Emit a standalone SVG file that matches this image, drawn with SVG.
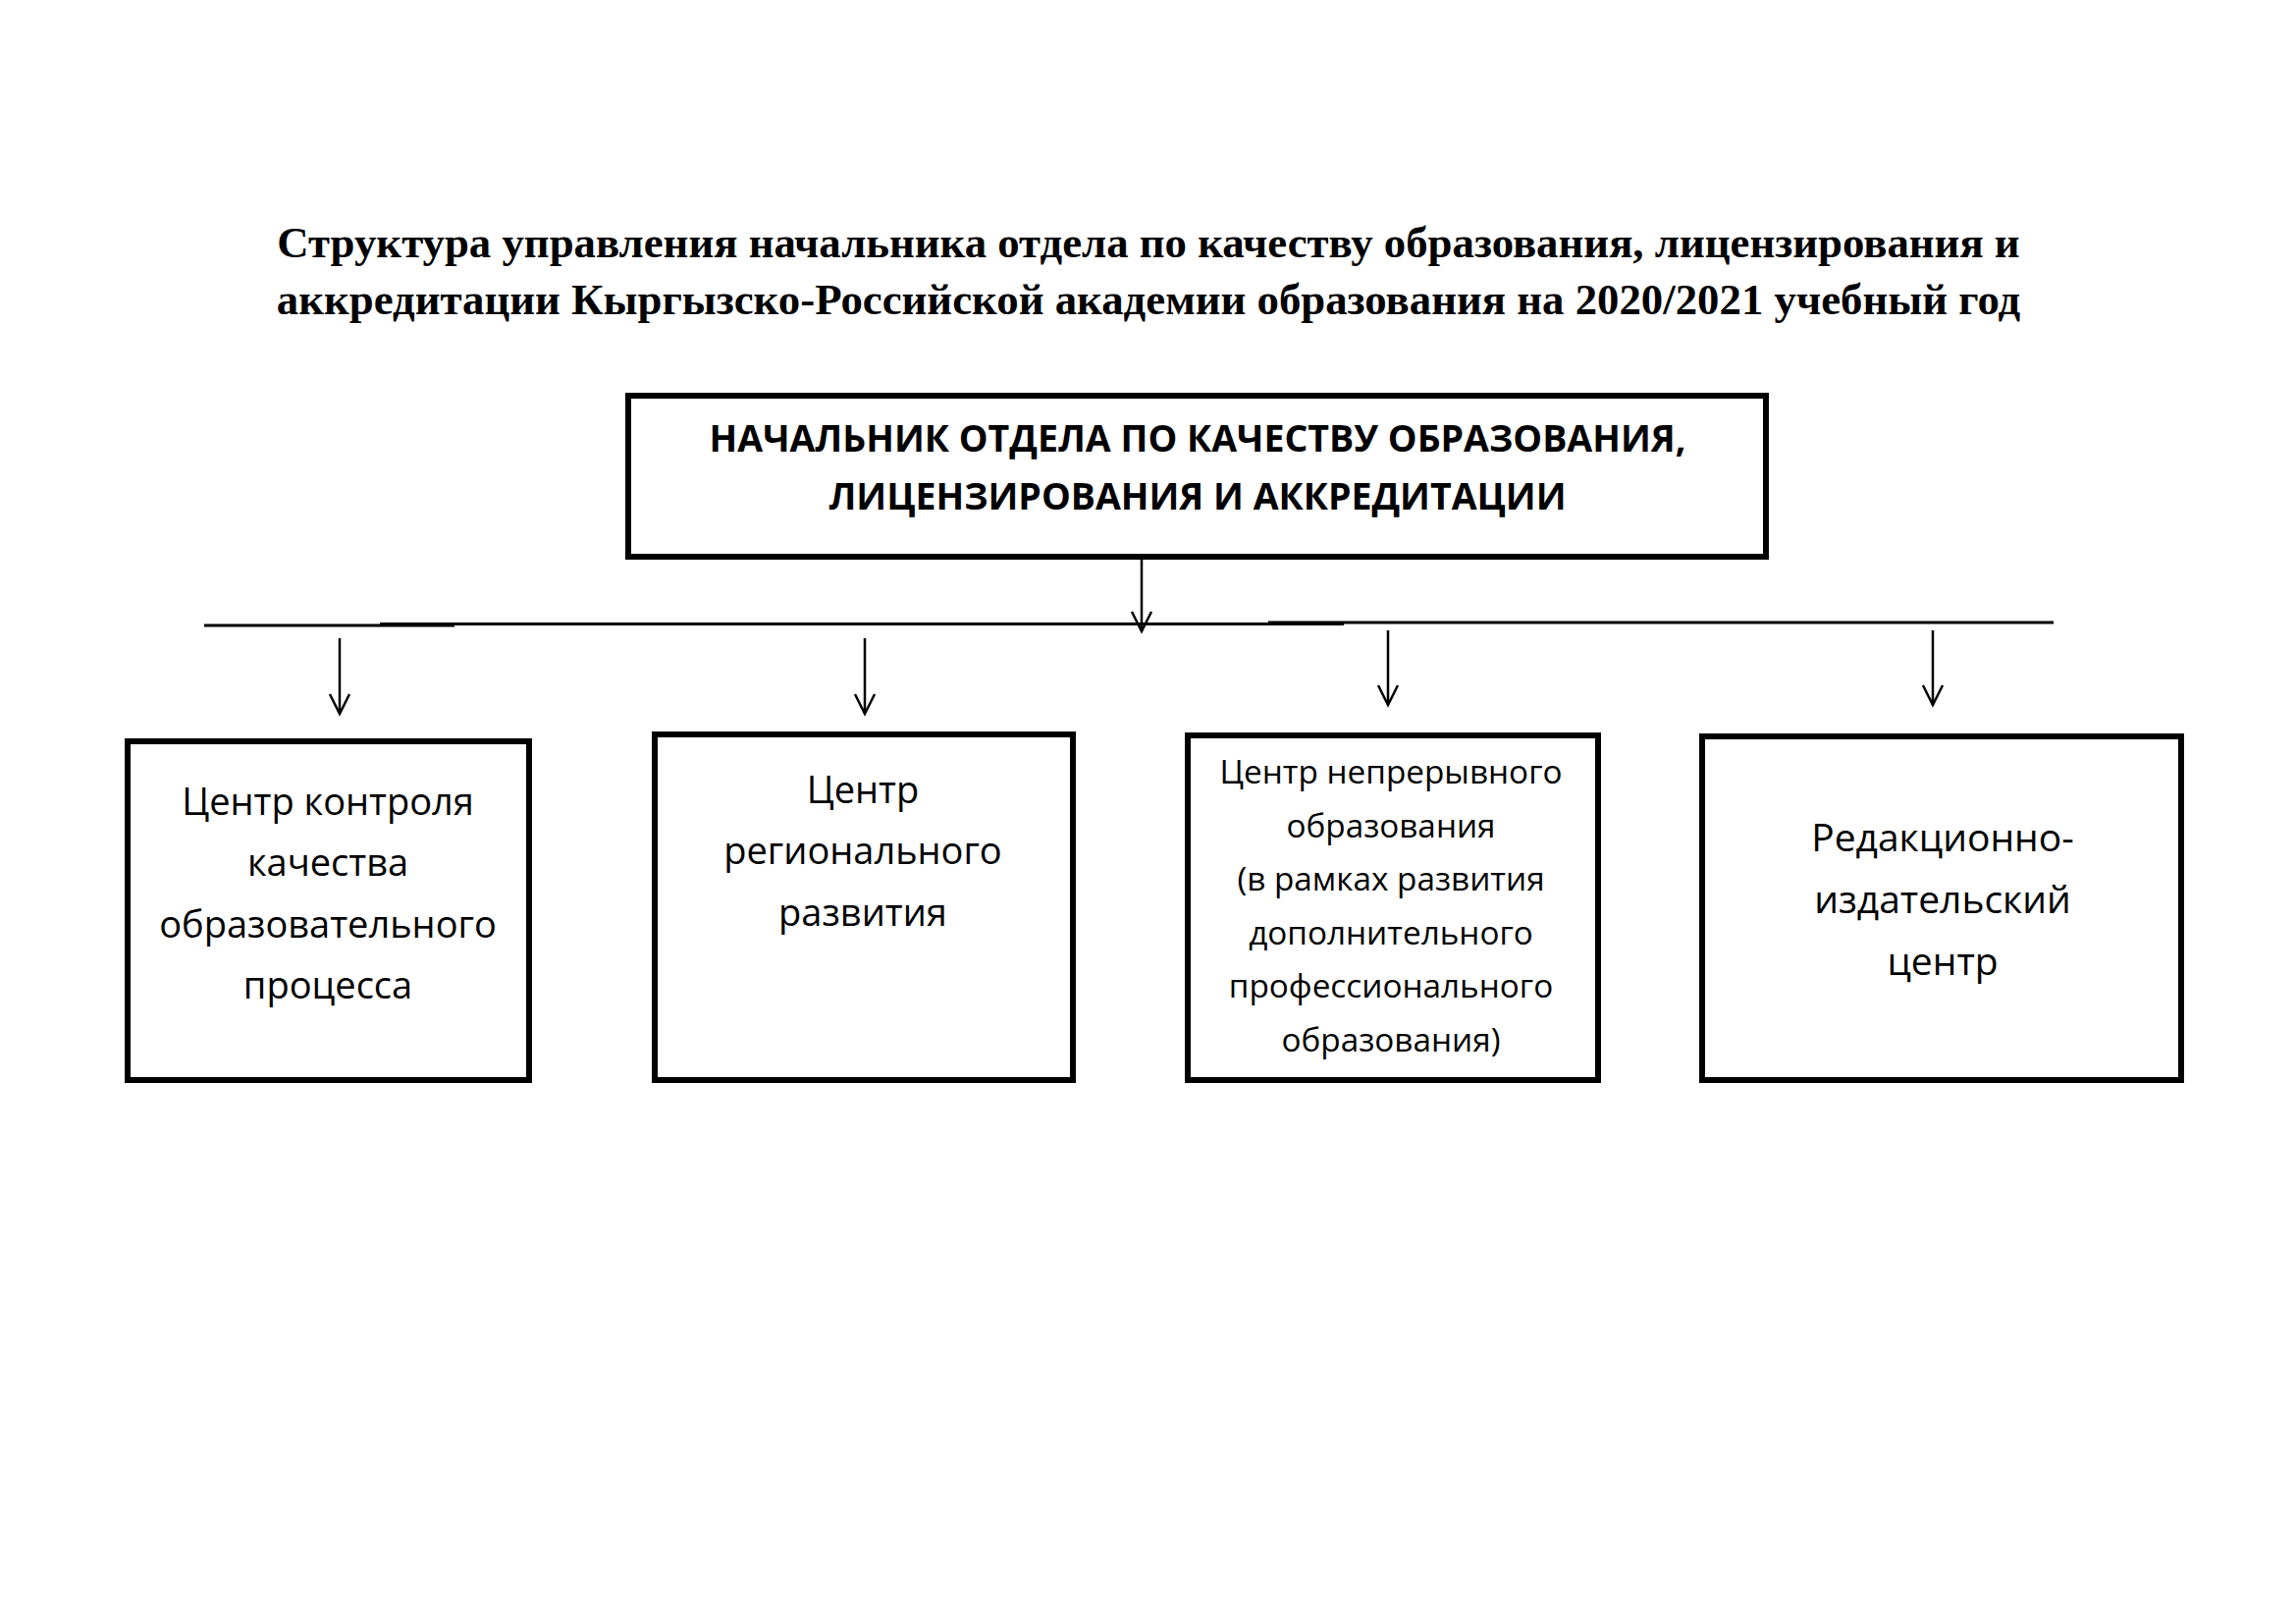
<svg xmlns="http://www.w3.org/2000/svg" width="2339" height="1654" viewBox="0 0 2339 1654">
<style>
.bg{fill:#ffffff}
.box{fill:#ffffff;stroke:#000000;stroke-width:6;stroke-linejoin:miter}
.ttl{font-family:"Liberation Serif","Times New Roman",serif;font-weight:bold;font-size:44.8px;fill:#000;text-anchor:middle}
.head{font-family:"Open Sans","Noto Sans",sans-serif;font-weight:bold;font-size:37.5px;fill:#000;text-anchor:middle}
.lbl{font-family:"Open Sans","Noto Sans",sans-serif;font-size:38px;fill:#000;text-anchor:middle}
.lbl-l{font-family:"Open Sans","Noto Sans",sans-serif;font-size:39px;fill:#000;text-anchor:middle}
.lbl-s{font-family:"Open Sans","Noto Sans",sans-serif;font-size:33.3px;fill:#000;text-anchor:middle}
.bus{stroke:#000;stroke-width:3;fill:none}
.arr{stroke:#000;stroke-width:2.5;fill:none;marker-end:url(#vhead)}
</style>
<defs>
<marker id="vhead" markerUnits="userSpaceOnUse" markerWidth="30" markerHeight="30" viewBox="-25 -15 30 30" refX="0" refY="0" orient="auto" overflow="visible">
<path d="M-20,-10 L0,0 L-20,10" fill="none" stroke="#000" stroke-width="2.5"/>
</marker>
</defs>
<rect class="bg" x="0" y="0" width="2339" height="1654"/>

<g id="title">
<text class="ttl" x="1170" y="262">Структура управления начальника отдела по качеству образования, лицензирования и</text>
<text class="ttl" x="1170" y="320">аккредитации Кыргызско-Российской академии образования на 2020/2021 учебный год</text>
</g>

<g id="connectors">
<line class="bus" x1="208" y1="637" x2="463" y2="637"/>
<line class="bus" x1="387" y1="635.5" x2="1369" y2="635.5"/>
<line class="bus" x1="1292" y1="634" x2="2092" y2="634"/>
<line class="arr" x1="1163" y1="570" x2="1163" y2="643"/>
<line class="arr" x1="346" y1="650" x2="346" y2="727"/>
<line class="arr" x1="881" y1="650" x2="881" y2="727"/>
<line class="arr" x1="1414" y1="642" x2="1414" y2="718"/>
<line class="arr" x1="1969" y1="642" x2="1969" y2="718"/>
</g>

<g id="node-head">
<rect class="box" x="640" y="403" width="1159" height="164"/>
<text class="head" x="1220" y="460">НАЧАЛЬНИК ОТДЕЛА ПО КАЧЕСТВУ ОБРАЗОВАНИЯ,</text>
<text class="head" x="1220" y="519">ЛИЦЕНЗИРОВАНИЯ И АККРЕДИТАЦИИ</text>
</g>

<g id="node-quality">
<rect class="box" x="130" y="755" width="409" height="345"/>
<text class="lbl" x="334" y="830">Центр контроля</text>
<text class="lbl" x="334" y="892">качества</text>
<text class="lbl" x="334" y="955">образовательного</text>
<text class="lbl" x="334" y="1017">процесса</text>
</g>

<g id="node-regional">
<rect class="box" x="667" y="748" width="426" height="352"/>
<text class="lbl" x="879" y="818">Центр</text>
<text class="lbl" x="879" y="880">регионального</text>
<text class="lbl" x="879" y="943">развития</text>
</g>

<g id="node-continuous">
<rect class="box" x="1210" y="749" width="418" height="351"/>
<text class="lbl-s" x="1417" y="798">Центр непрерывного</text>
<text class="lbl-s" x="1417" y="853">образования</text>
<text class="lbl-s" x="1417" y="907">(в рамках развития</text>
<text class="lbl-s" x="1417" y="962">дополнительного</text>
<text class="lbl-s" x="1417" y="1016">профессионального</text>
<text class="lbl-s" x="1417" y="1071">образования)</text>
</g>

<g id="node-publishing">
<rect class="box" x="1734" y="750" width="488" height="350"/>
<text class="lbl-l" x="1979" y="867">Редакционно-</text>
<text class="lbl-l" x="1979" y="930">издательский</text>
<text class="lbl-l" x="1979" y="993">центр</text>
</g>
</svg>
